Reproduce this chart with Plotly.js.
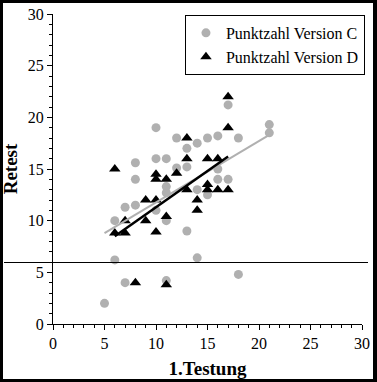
<!DOCTYPE html>
<html>
<head>
<meta charset="utf-8">
<script src="https://cdn.plot.ly/plotly-3.0.1.min.js"></script>
<style>
html,body{margin:0;padding:0;background:#fff;}
#wrap{position:relative;width:377px;height:382px;}
#chart{width:377px;height:382px;}
#frame{position:absolute;left:0;top:0;width:377px;height:382px;box-sizing:border-box;border:3px solid #000;border-right-width:4px;pointer-events:none;}
.shapelayer path{shape-rendering:crispEdges;}
</style>
</head>
<body>
<div id="wrap"><div id="chart"></div><div id="frame"></div></div>
<script>
// Version C (grey circles)
const cX = [5, 6, 6, 7, 7, 8, 8, 8, 10, 10, 10, 11, 11, 11, 11, 11, 12, 12, 13, 13, 13, 14, 14, 14, 15, 15, 16, 16, 16, 17, 17, 18, 18, 21, 21];
const cY = [2, 6.2, 10, 4, 11.3, 11.5, 14, 15.6, 11, 16, 19, 4.2, 10, 12.7, 13.3, 16, 15.1, 18, 9, 15.2, 17, 6.4, 13, 17.5, 12.5, 18, 14, 15, 18.2, 14, 21.2, 4.8, 18, 18.5, 19.3];
// Version D (black triangles)
const dX = [6, 6, 7, 7, 8, 9, 9, 10, 10, 10, 10, 11, 11, 11, 12, 13, 13, 13, 14, 14, 15, 15, 15, 16, 16, 17, 17, 17];
const dY = [8.8, 15, 8.8, 10, 4, 10, 12, 8.9, 12, 14, 14.5, 3.8, 10.4, 14, 14.6, 13, 16, 18, 11, 12, 13, 13.5, 16, 13, 16, 13, 19, 22];
// regression lines
const fitCX = [5, 21];
const fitCY = [8.8, 18.3];
const fitDX = [6, 17];
const fitDY = [8.5, 16.2];
const cutoff = 6;

const serif = '"Liberation Serif", "Times New Roman", serif';
const traces = [
  {x: cX, y: cY, type: 'scatter', mode: 'markers', name: 'Punktzahl Version C',
   marker: {symbol: 'circle', size: 9, color: '#b0b0b0'}},
  {x: dX, y: dY, type: 'scatter', mode: 'markers', name: 'Punktzahl Version D',
   marker: {symbol: 'triangle-up', size: 10, color: '#000000'}},
  {x: fitCX, y: fitCY, type: 'scatter', mode: 'lines', showlegend: false,
   line: {color: '#b0b0b0', width: 2}},
  {x: fitDX, y: fitDY, type: 'scatter', mode: 'lines', showlegend: false,
   line: {color: '#000000', width: 2.5}}
];
const axisCommon = {
  range: [0, 30], dtick: 5, tick0: 0, showgrid: false, zeroline: false,
  showline: true, linecolor: '#000', linewidth: 1,
  ticks: 'outside', ticklen: 5, tickcolor: '#000', tickwidth: 1,
  minor: {dtick: 1, ticks: 'outside', ticklen: 3, tickcolor: '#000', tickwidth: 1, showgrid: false},
  tickfont: {family: serif, size: 16, color: '#000'}
};
const layout = {
  width: 377, height: 382,
  margin: {l: 53, r: 12, t: 14, b: 58},
  paper_bgcolor: '#fff', plot_bgcolor: '#fff',
  showlegend: true,
  legend: {x: 1.0096, xanchor: 'right', y: 0.997, yanchor: 'top',
    bordercolor: '#000', borderwidth: 1, bgcolor: '#fff',
    font: {family: serif, size: 16, color: '#000'}},
  xaxis: Object.assign({}, axisCommon, {
    title: {text: '<b>1.Testung</b>', font: {family: serif, size: 19, color: '#000'}, standoff: 10}
  }),
  yaxis: Object.assign({}, axisCommon, {
    title: {text: '<b>Retest</b>', font: {family: serif, size: 19, color: '#000'}, standoff: 6}
  }),
  shapes: [{type: 'line', xref: 'paper', yref: 'y', x0: -0.16, x1: 1.019, y0: cutoff, y1: cutoff,
    line: {color: '#000', width: 1}}]
};
Plotly.newPlot('chart', traces, layout, {displayModeBar: false, staticPlot: true});
</script>
</body>
</html>
